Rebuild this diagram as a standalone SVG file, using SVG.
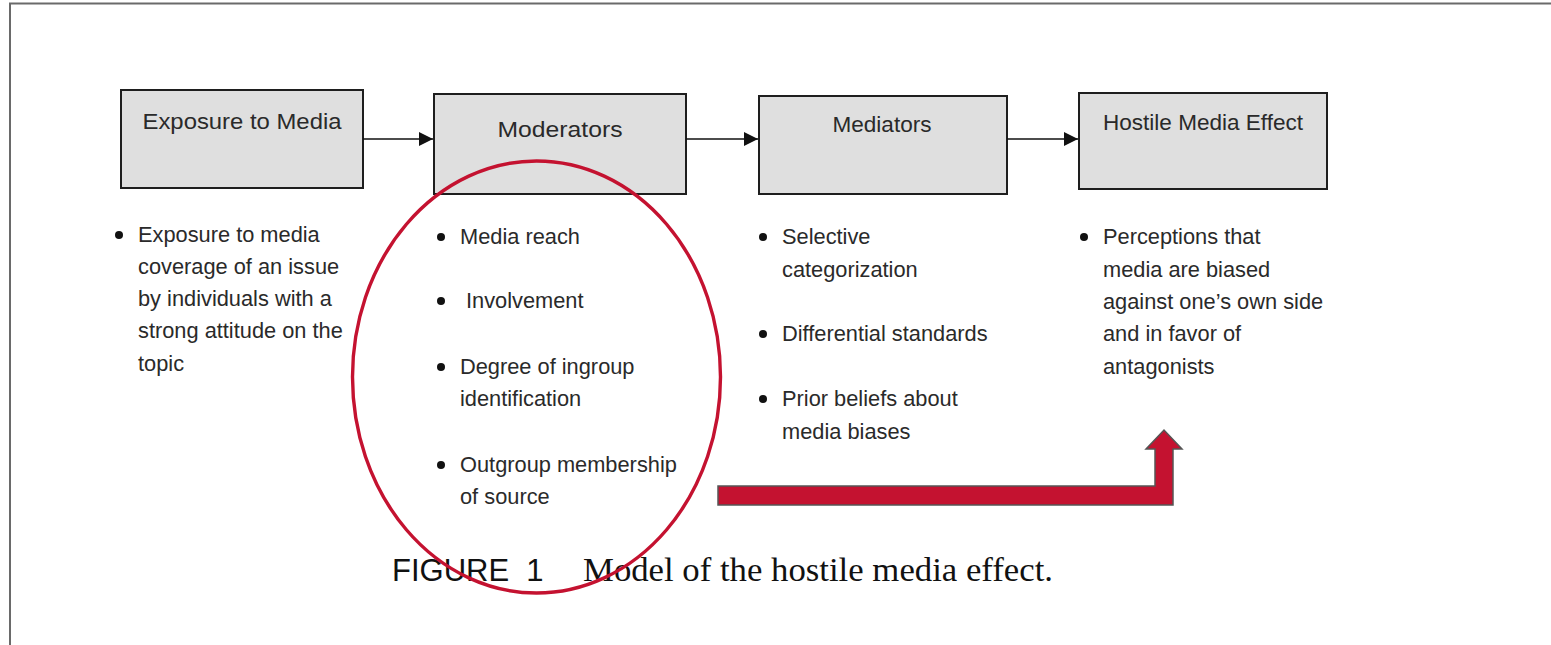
<svg xmlns="http://www.w3.org/2000/svg" width="1551" height="645" viewBox="0 0 1551 645">
  <style>
    .box { fill: #dfdfdf; stroke: #1e1e1e; stroke-width: 2; }
    .title { font-family: "Liberation Sans", Arial, sans-serif; font-size: 22px; fill: #2a2a2a; text-anchor: middle; }
    .item { font-family: "Liberation Sans", Arial, sans-serif; font-size: 21.8px; fill: #2a2a2a; }
    .dot { fill: #111; }
    .link { stroke: #111; stroke-width: 1.6; fill: none; marker-end: url(#tri); }
    .cap-sans { font-family: "Liberation Sans", Arial, sans-serif; font-size: 31px; fill: #111; }
    .cap-serif { font-family: "Liberation Serif", "Times New Roman", serif; font-size: 34px; fill: #111; }
  </style>
  <defs>
    <marker id="tri" viewBox="0 0 14 14" refX="14" refY="7" markerWidth="14" markerHeight="14" markerUnits="userSpaceOnUse" orient="auto">
      <path d="M0,0 L14,7 L0,14 Z" fill="#111"/>
    </marker>
  </defs>

  <rect width="1551" height="645" fill="#fff"/>
  <!-- page frame: top and left edges -->
  <path d="M10,645 V3.5 H1551" fill="none" stroke="#6a6a6a" stroke-width="2"/>

  <g id="exposure">
    <rect class="box" x="121" y="90" width="242" height="98"/>
    <text class="title" x="242" y="129" textLength="199" lengthAdjust="spacingAndGlyphs">Exposure to Media</text>
    <circle class="dot" cx="119" cy="235" r="4"/>
    <text class="item" x="138" y="242">Exposure to media</text>
    <text class="item" x="138" y="274">coverage of an issue</text>
    <text class="item" x="138" y="306">by individuals with a</text>
    <text class="item" x="138" y="338">strong attitude on the</text>
    <text class="item" x="138" y="371">topic</text>
  </g>

  <g id="moderators">
    <rect class="box" x="434" y="94" width="252" height="100"/>
    <text class="title" x="560" y="137" textLength="125" lengthAdjust="spacingAndGlyphs">Moderators</text>
    <circle class="dot" cx="441" cy="237" r="4"/>
    <text class="item" x="460" y="244">Media reach</text>
    <circle class="dot" cx="441" cy="301" r="4"/>
    <text class="item" x="466" y="308">Involvement</text>
    <circle class="dot" cx="441" cy="367" r="4"/>
    <text class="item" x="460" y="374">Degree of ingroup</text>
    <text class="item" x="460" y="406">identification</text>
    <circle class="dot" cx="441" cy="465" r="4"/>
    <text class="item" x="460" y="472">Outgroup membership</text>
    <text class="item" x="460" y="504">of source</text>
  </g>

  <g id="mediators">
    <rect class="box" x="759" y="96" width="248" height="98"/>
    <text class="title" x="882" y="132" textLength="99" lengthAdjust="spacingAndGlyphs">Mediators</text>
    <circle class="dot" cx="763" cy="237" r="4"/>
    <text class="item" x="782" y="244">Selective</text>
    <text class="item" x="782" y="277">categorization</text>
    <circle class="dot" cx="763" cy="334" r="4"/>
    <text class="item" x="782" y="341">Differential standards</text>
    <circle class="dot" cx="763" cy="399" r="4"/>
    <text class="item" x="782" y="406">Prior beliefs about</text>
    <text class="item" x="782" y="439">media biases</text>
  </g>

  <g id="hostile-effect">
    <rect class="box" x="1079" y="93" width="248" height="96"/>
    <text class="title" x="1203" y="130" textLength="200" lengthAdjust="spacingAndGlyphs">Hostile Media Effect</text>
    <circle class="dot" cx="1084" cy="237" r="4"/>
    <text class="item" x="1103" y="244">Perceptions that</text>
    <text class="item" x="1103" y="277">media are biased</text>
    <text class="item" x="1103" y="309">against one’s own side</text>
    <text class="item" x="1103" y="341">and in favor of</text>
    <text class="item" x="1103" y="374">antagonists</text>
  </g>

  <g id="connectors">
    <line class="link" x1="363" y1="139" x2="433" y2="139"/>
    <line class="link" x1="686" y1="139" x2="758" y2="139"/>
    <line class="link" x1="1007" y1="139" x2="1078" y2="139"/>
  </g>

  <g id="caption">
    <text class="cap-sans" x="392" y="581" xml:space="preserve">FIGURE  1</text>
    <text class="cap-serif" x="583" y="581" textLength="470" lengthAdjust="spacingAndGlyphs">Model of the hostile media effect.</text>
  </g>

  <g id="highlight">
    <ellipse cx="536.5" cy="377" rx="184" ry="216" fill="none" stroke="#c41230" stroke-width="3.4"/>
    <path d="M718,486 H1155 V449 H1146 L1164,430 L1182,449 H1173 V505 H718 Z" fill="#c41230" stroke="#555" stroke-width="1.5" stroke-linejoin="miter"/>
  </g>
</svg>
